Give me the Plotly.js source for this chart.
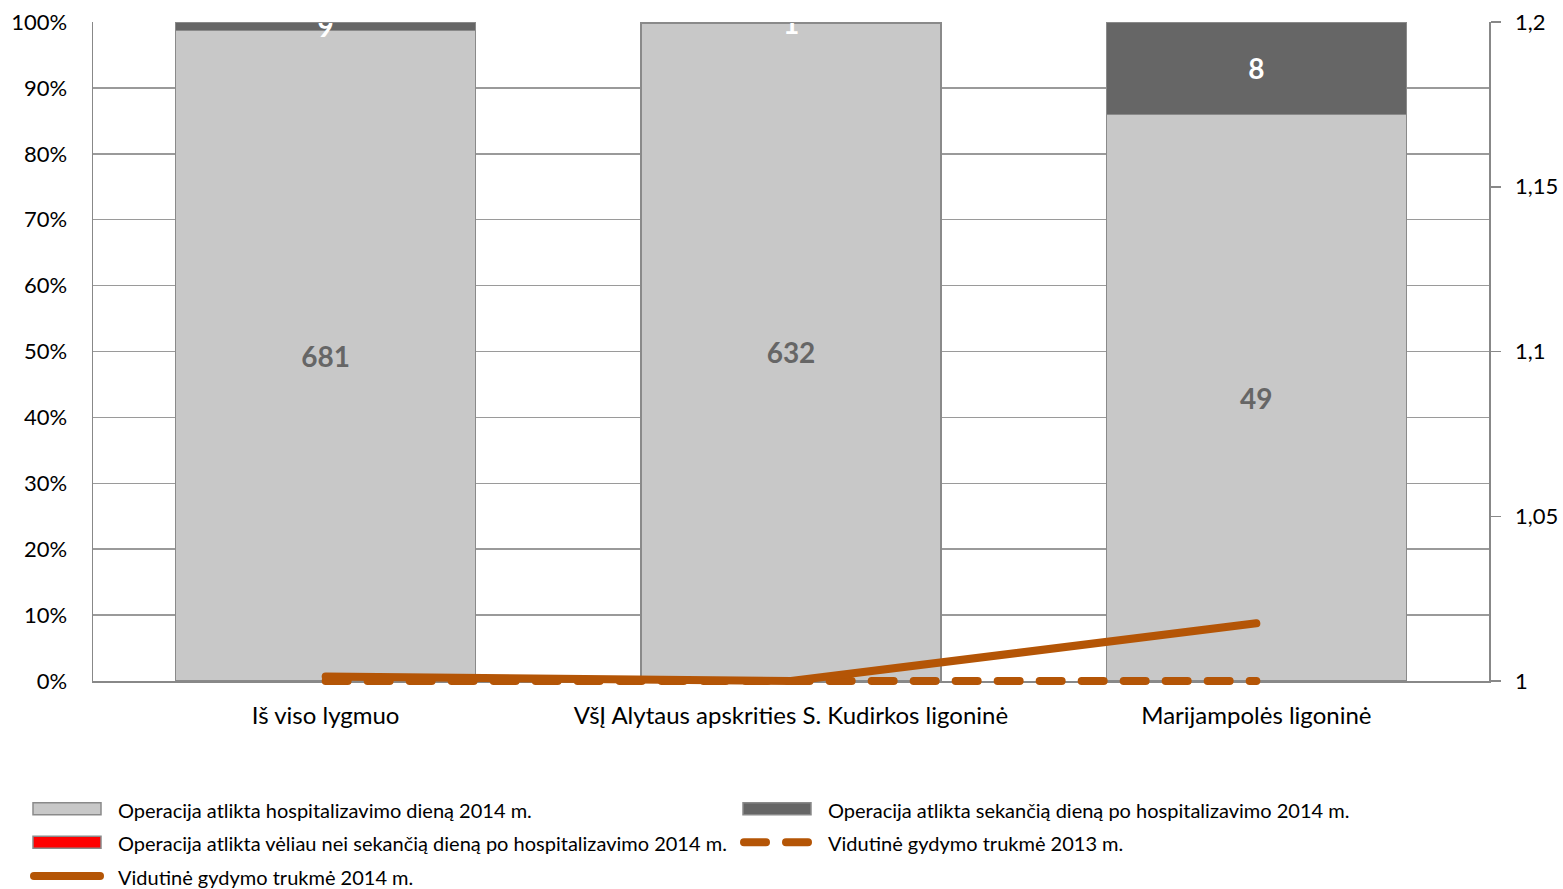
<!DOCTYPE html>
<html>
<head>
<meta charset="utf-8">
<script src="https://cdn.plot.ly/plotly-3.0.1.min.js"></script>
<style>
html,body{margin:0;padding:0;background:#fff;}
#chart{width:1563px;height:889px;}
path.js-line{stroke-linecap:round;}
.overplot .xy2, .scatterlayer, .scatterlayer g, .scatterlayer path{clip-path:none !important;}
.legend text.legendtext{font-size:20px !important;}
</style>
</head>
<body>
<div id="chart"></div>
<script>
// ---- data ----
const categories = ["Iš viso lygmuo", "VšĮ Alytaus apskrities S. Kudirkos ligoninė", "Marijampolės ligoninė"];
const sameDay2014 = [681, 632, 49];
const nextDay2014 = [9, 1, 8];
const later2014 = [0, 0, 0];
const avgStay2013 = [1, 1, 1];
const avgStay2014 = [1.0014, 1, 1.0175];
const seriesNames = [
  "Operacija atlikta hospitalizavimo dieną 2014 m.",
  "Operacija atlikta sekančią dieną po hospitalizavimo 2014 m.",
  "Operacija atlikta vėliau nei sekančią dieną po hospitalizavimo 2014 m.",
  "Vidutinė gydymo trukmė 2013 m.",
  "Vidutinė gydymo trukmė 2014 m."
];
const leftTicks = [0,10,20,30,40,50,60,70,80,90,100];
const leftTickText = leftTicks.map(v => v + "%");
const rightTicks = [1, 1.05, 1.1, 1.15, 1.2];

const FONT = "Lato, 'Open Sans', sans-serif";
const lineColor = "#B45506";

const barCommon = {
  type: "bar", x: categories,
  textposition: "inside", insidetextanchor: "middle", constraintext: "none",
  textangle: 0, cliponaxis: true, hoverinfo: "y+name"
};

const traces = [
  Object.assign({}, barCommon, {
    name: seriesNames[0], y: sameDay2014, text: sameDay2014.map(String),
    marker: {color: "#C8C8C8", line: {color: "#8A8A8A", width: 1.5}},
    textfont: {family: FONT, size: 28, color: "#666666", weight: "bold"}
  }),
  Object.assign({}, barCommon, {
    name: seriesNames[1], y: nextDay2014, text: nextDay2014.map(String),
    marker: {color: "#666666", line: {color: "#8A8A8A", width: 1.5}},
    textfont: {family: FONT, size: 28, color: "#FFFFFF", weight: "bold"}
  }),
  Object.assign({}, barCommon, {
    name: seriesNames[2], y: later2014, text: later2014.map(() => ""),
    marker: {color: "#FF0000", line: {color: "#8A8A8A", width: 1.5}}
  }),
  {
    type: "scatter", mode: "lines", name: seriesNames[3], x: categories, y: avgStay2013,
    yaxis: "y2", cliponaxis: false,
    line: {color: lineColor, width: 8, dash: "22px,20px"}
  },
  {
    type: "scatter", mode: "lines", name: seriesNames[4], x: categories, y: avgStay2014,
    yaxis: "y2", cliponaxis: false,
    line: {color: lineColor, width: 8}
  }
];

const layout = {
  width: 1563, height: 889,
  margin: {l: 93, r: 74, t: 22, b: 208, pad: 0, autoexpand: false},
  paper_bgcolor: "#FFFFFF", plot_bgcolor: "#FFFFFF",
  font: {family: FONT, color: "#000000", size: 22},
  separators: ", ",
  barmode: "stack", barnorm: "percent", bargap: 0.355,
  showlegend: true,
  xaxis: {
    type: "category", showgrid: false, showline: true, linecolor: "#888888", linewidth: 2,
    ticks: "", tickfont: {family: FONT, size: 24, color: "#000"}, ticklabelstandoff: 12,
    zeroline: false, layer: "below traces"
  },
  yaxis: {
    range: [0, 100], tickmode: "array", tickvals: leftTicks, ticktext: leftTickText,
    showgrid: true, gridcolor: "#9A9A9A", gridwidth: 1.5,
    showline: true, linecolor: "#888888", linewidth: 1.5,
    ticks: "", ticklabelstandoff: 20, zeroline: false,
    tickfont: {family: FONT, size: 22, color: "#000"}
  },
  yaxis2: {
    overlaying: "y", side: "right", range: [1, 1.2], tickmode: "array", tickvals: rightTicks,
    showgrid: false, showline: true, linecolor: "#888888", linewidth: 1.5,
    ticks: "outside", ticklen: 10, tickcolor: "#888888", tickwidth: 1.5,
    ticklabelstandoff: 10, zeroline: false,
    tickfont: {family: FONT, size: 22, color: "#000"}
  },
  legend: {
    orientation: "h",
    x: (16 - 93) / 1396, xanchor: "left", y: (681 - 787) / 659, yanchor: "top",
    traceorder: "normal", entrywidth: 603, entrywidthmode: "pixels",
    itemwidth: 92, font: {family: FONT, size: 23.5, color: "#000"},
    bgcolor: "rgba(0,0,0,0)", borderwidth: 0
  }
};

Plotly.newPlot("chart", traces, layout, {displayModeBar: false, staticPlot: true}).then(gd => {
  // widen legend symbols to match the reference's long swatches
  gd.querySelectorAll(".legend .traces path").forEach(p => {
    const bb = p.getBBox();
    const cx = bb.x + bb.width / 2, cy = bb.y + bb.height / 2;
    if (p.classList.contains("js-line")) {
      p.setAttribute("d", `M${cx - 33},${cy}h66`);
    } else if (/H/.test(p.getAttribute("d") || "")) {
      p.setAttribute("d", `M${cx + 34},${cy + 6}H${cx - 34}V${cy - 6}H${cx + 34}Z`);
    }
  });
});
</script>
</body>
</html>
